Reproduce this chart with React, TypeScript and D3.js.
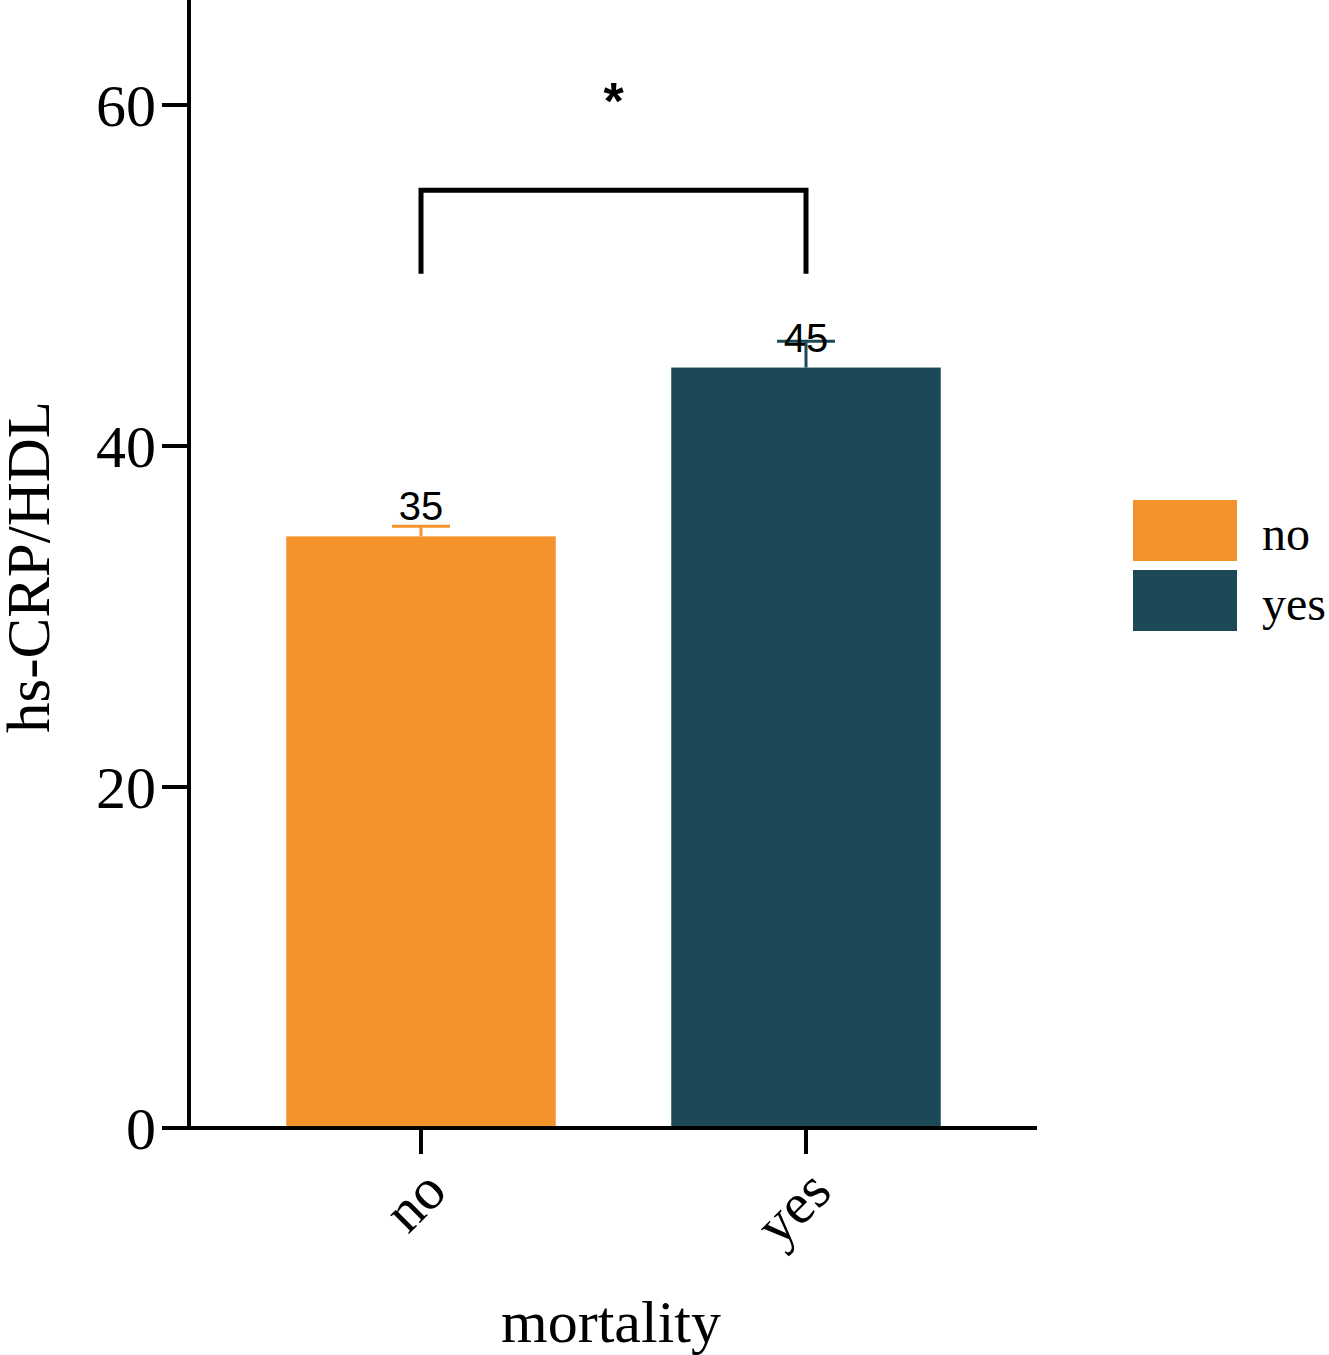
import React from "react";
import * as d3 from "d3";

const categories = ["no", "yes"];
const means = [34.7, 44.6];
const upperErr = [35.3, 46.15];
const valueLabels = ["35", "45"];
const colors = ["#F4922B", "#1C4957"];
const yTicks = [0, 20, 40, 60];
const sigBracketTop = 55;
const sigBracketBottom = 50.1;
const sigStarValue = 61.1;

const W = 1329;
const H = 1355;

export default function App() {
  const y = d3.scaleLinear().domain([0, 60]).range([1128, 105]);
  const x = d3
    .scaleBand<string>()
    .domain(categories)
    .range([190, 1037])
    .paddingInner(0.3)
    .paddingOuter(0.25);
  const bw = x.bandwidth();
  const serif = "'Liberation Serif', 'Times New Roman', serif";
  const sans = "'Liberation Sans', Arial, sans-serif";
  const cx = (c: string) => (x(c) as number) + bw / 2;
  const axisX = 189;
  const x0 = cx(categories[0]);
  const x1 = cx(categories[1]);

  return (
    <svg
      width={W}
      height={H}
      style={{ position: "absolute", left: 0, top: 0, background: "#fff" }}
    >
      {/* bars */}
      {categories.map((c, i) => (
        <rect
          key={c}
          x={x(c)}
          y={y(means[i])}
          width={bw}
          height={y(0) - y(means[i])}
          fill={colors[i]}
        />
      ))}
      {/* error bars */}
      {categories.map((c, i) => (
        <g key={"e" + c} stroke={colors[i]} strokeWidth={3}>
          <line x1={cx(c)} x2={cx(c)} y1={y(means[i])} y2={y(upperErr[i])} />
          <line x1={cx(c) - 29} x2={cx(c) + 29} y1={y(upperErr[i])} y2={y(upperErr[i])} />
        </g>
      ))}
      {/* value labels */}
      {categories.map((c, i) => (
        <text
          key={"v" + c}
          x={cx(c)}
          y={y(means[i]) - 16}
          textAnchor="middle"
          fontFamily={sans}
          fontSize={40}
          fill="#000"
        >
          {valueLabels[i]}
        </text>
      ))}
      {/* y axis */}
      <line x1={axisX} x2={axisX} y1={0} y2={y(0) + 2} stroke="#000" strokeWidth={4} />
      {yTicks.map((t) => (
        <g key={t}>
          <line x1={162} x2={axisX} y1={y(t)} y2={y(t)} stroke="#000" strokeWidth={4} />
          <text
            x={156}
            y={y(t)}
            dy="0.35em"
            textAnchor="end"
            fontFamily={serif}
            fontSize={60}
            fill="#000"
          >
            {t}
          </text>
        </g>
      ))}
      {/* x axis */}
      <line x1={162} x2={1037} y1={y(0)} y2={y(0)} stroke="#000" strokeWidth={4} />
      {categories.map((c) => (
        <g key={"xt" + c}>
          <line x1={cx(c)} x2={cx(c)} y1={y(0)} y2={y(0) + 26} stroke="#000" strokeWidth={4} />
          <text
            transform={`translate(${cx(c) + 28},${y(0) + 66}) rotate(-45)`}
            textAnchor="end"
            fontFamily={serif}
            fontSize={58}
            fill="#000"
          >
            {c}
          </text>
        </g>
      ))}
      {/* axis titles */}
      <text
        x={611}
        y={1342}
        textAnchor="middle"
        fontFamily={serif}
        fontSize={60}
        fill="#000"
      >
        mortality
      </text>
      <text
        transform={`translate(49,567) rotate(-90)`}
        textAnchor="middle"
        fontFamily={serif}
        fontSize={61}
        fill="#000"
      >
        hs-CRP/HDL
      </text>
      {/* significance bracket */}
      <path
        d={`M${x0},${y(sigBracketBottom)}V${y(sigBracketTop)}H${x1}V${y(sigBracketBottom)}`}
        fill="none"
        stroke="#000"
        strokeWidth={5}
      />
      <text
        x={(x0 + x1) / 2}
        y={y(sigStarValue) + 33}
        textAnchor="middle"
        fontFamily={sans}
        fontWeight="bold"
        fontSize={52}
        fill="#000"
      >
        *
      </text>
      {/* legend */}
      {categories.map((c, i) => (
        <g key={"lg" + c}>
          <rect x={1133} y={500 + i * 70} width={104} height={61} fill={colors[i]} />
          <text
            x={1262}
            y={500 + i * 70 + 50}
            fontFamily={serif}
            fontSize={48}
            fill="#000"
          >
            {c}
          </text>
        </g>
      ))}
    </svg>
  );
}
